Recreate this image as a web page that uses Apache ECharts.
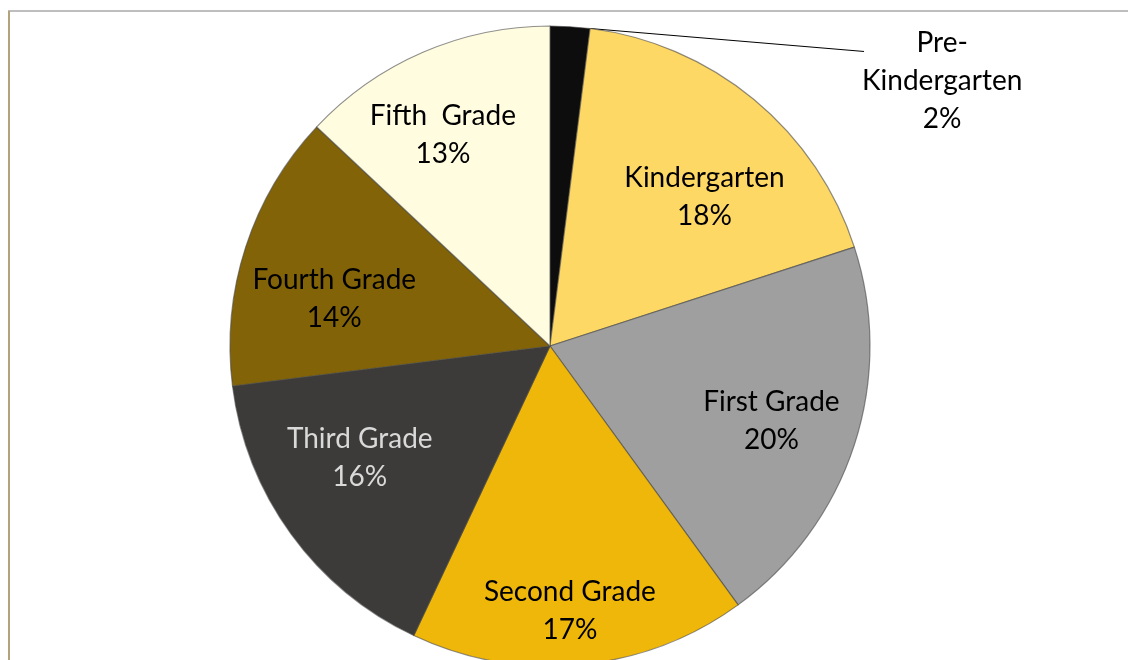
<!DOCTYPE html>
<html>
<head>
<meta charset="utf-8">
<title>Enrollment by grade</title>
<script src="https://cdn.jsdelivr.net/npm/echarts@6/dist/echarts.min.js"></script>
<style>
  html, body { margin: 0; padding: 0; background: #fff; }
  #chart { width: 1128px; height: 660px; }
</style>
</head>
<body>
<div id="chart"></div>
<script>
// grade levels and their share of students (%)
const grades = ['Pre-\nKindergarten', 'Kindergarten', 'First Grade', 'Second Grade', 'Third Grade', 'Fourth Grade', 'Fifth  Grade'];
const shares = [2, 18, 20, 17, 16, 14, 13];

const sliceColors = ['#0d0d0d', '#fed865', '#9f9f9f', '#efb70a', '#3d3b39', '#826308', '#fffce0'];
const labelColors = ['#000', '#000', '#000', '#000', '#d9d9d9', '#000', '#000'];
// label spot for each slice: angle clockwise from 12 o'clock, distance as fraction of radius
const labelSpots = [[55.9, 1.48], [46.1, 0.67], [108.6, 0.73], [175.7, 0.83], [239.5, 0.69], [282.3, 0.69], [333.1, 0.74]];

const cx = 550, cy = 346, R = 320;

function polar(angleDeg, dist) {
    const a = angleDeg * Math.PI / 180;
    return [cx + dist * Math.sin(a), cy - dist * Math.cos(a)];
}

const total = shares.reduce((s, v) => s + v, 0);
const chart = echarts.init(document.getElementById('chart'));

const option = {
    backgroundColor: '#fff',
    animation: false,
    graphic: [
        {type: 'line', shape: {x1: 8, y1: 11, x2: 1128, y2: 11}, style: {stroke: '#a8a8a8', lineWidth: 1.5}},
        {type: 'line', shape: {x1: 9, y1: 11, x2: 9, y2: 660}, style: {stroke: '#b3a37d', lineWidth: 2}}
    ],
    series: [{
        type: 'pie',
        center: [cx, cy],
        radius: R,
        startAngle: 90,
        clockwise: true,
        avoidLabelOverlap: false,
        itemStyle: {
            borderColor: 'rgba(70,70,70,0.6)',
            borderWidth: 1.2
        },
        label: {
            position: 'inside',
            formatter: '{b}\n{c}%',
            fontFamily: 'Lato',
            fontSize: 28,
            lineHeight: 38,
            align: 'center'
        },
        labelLine: {show: false},
        labelLayout: function (params) {
            const i = params.dataIndex;
            const p = polar(labelSpots[i][0], labelSpots[i][1] * R);
            const res = {x: p[0], y: p[1], align: 'center', verticalAlign: 'middle'};
            if (i === 0) {
                const w = params.labelRect.width, h = params.labelRect.height;
                const edge = polar(shares[0] / total * 360, R);
                const end = [p[0] - w / 2 + 2, p[1] - h / 2 + 28];
                res.labelLinePoints = [edge, end, end];
            }
            return res;
        },
        data: grades.map((g, i) => ({
            name: g,
            value: shares[i],
            itemStyle: {color: sliceColors[i]},
            label: i === 0
                ? {position: 'outside', color: labelColors[i]}
                : {color: labelColors[i]},
            labelLine: i === 0
                ? {show: true, lineStyle: {color: '#000', width: 1}}
                : {show: false}
        }))
    }]
};

chart.setOption(option);
</script>
</body>
</html>
